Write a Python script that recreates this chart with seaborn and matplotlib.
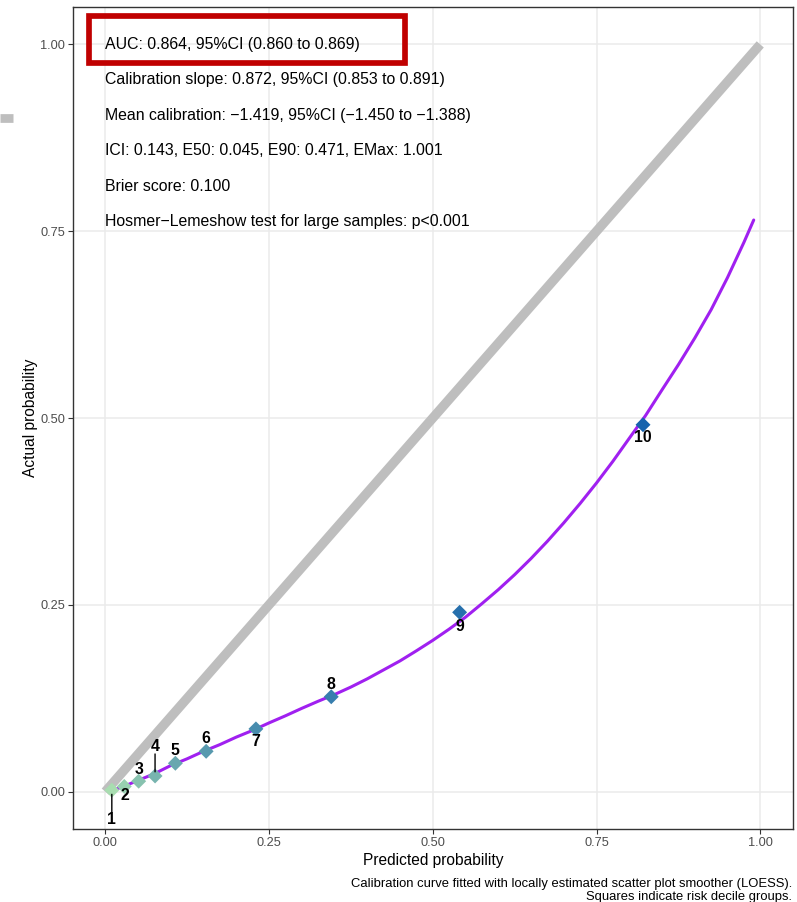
import matplotlib
matplotlib.use("Agg")
import matplotlib.pyplot as plt
from matplotlib.patches import Rectangle
from matplotlib.lines import Line2D
import seaborn as sns
import pandas as pd

# Risk decile groups: mean predicted vs observed probability
decile = [1, 2, 3, 4, 5, 6, 7, 8, 9, 10]
pred_decile = [0.010, 0.029, 0.051, 0.076, 0.107, 0.154, 0.230, 0.345, 0.541, 0.821]
obs_decile = [0.002, 0.007, 0.014, 0.021, 0.038, 0.054, 0.084, 0.127, 0.240, 0.491]

# LOESS calibration curve
curve_x = [0.015, 0.025, 0.05, 0.075, 0.10, 0.125, 0.15, 0.175, 0.20, 0.225, 0.25, 0.275,
           0.30, 0.325, 0.35, 0.375, 0.40, 0.425, 0.45, 0.475, 0.50, 0.525, 0.55, 0.575,
           0.60, 0.625, 0.65, 0.675, 0.70, 0.725, 0.75, 0.775, 0.80, 0.825, 0.85, 0.875,
           0.90, 0.925, 0.95, 0.975, 0.99]
curve_y = [0.003, 0.006, 0.015, 0.024, 0.035, 0.044, 0.054, 0.063, 0.073, 0.082, 0.092, 0.1015,
           0.1115, 0.121, 0.130, 0.140, 0.151, 0.163, 0.175, 0.1885, 0.2025, 0.2175, 0.2335, 0.2516,
           0.2703, 0.2904, 0.3120, 0.3351, 0.3597, 0.3857, 0.4131, 0.4421, 0.4729, 0.5035, 0.5377, 0.5714,
           0.607, 0.645, 0.688, 0.735, 0.765]

# Ideal calibration line
ideal = [0.0, 1.0]

stats_lines = [
    "AUC: 0.864, 95%CI (0.860 to 0.869)",
    "Calibration slope: 0.872, 95%CI (0.853 to 0.891)",
    "Mean calibration: \u22121.419, 95%CI (\u22121.450 to \u22121.388)",
    "ICI: 0.143, E50: 0.045, E90: 0.471, EMax: 1.001",
    "Brier score: 0.100",
    "Hosmer\u2212Lemeshow test for large samples: p<0.001",
]

caption = ("Calibration curve fitted with locally estimated scatter plot smoother (LOESS).\n"
           "Squares indicate risk decile groups.")

# label offsets (pixels) for decile numbers, and whether a leader segment is drawn
label_offsets = [(0, -29), (1, -9), (0, 12), (0, 29), (0, 13), (0, 13),
                 (0, -13), (0, 12), (0, -14), (0, -13)]
label_segment = [True, False, False, True, False, False, False, False, False, False]

sns.set_theme(style="whitegrid")
plt.rcParams["font.family"] = ["Liberation Sans", "DejaVu Sans"]

fig = plt.figure(figsize=(7.97, 9.02), dpi=100)
ax = fig.add_axes([0.091, 0.0809, 0.904, 0.9113])

sns.lineplot(x=ideal, y=ideal, ax=ax, color="#BEBEBE", linewidth=6.8,
             solid_capstyle="butt", zorder=2)
sns.lineplot(x=curve_x, y=curve_y, ax=ax, color="#A020F0", linewidth=2.2,
             sort=False, zorder=3)

df = pd.DataFrame({"pred": pred_decile, "obs": obs_decile, "decile": decile})
palette = sns.blend_palette(["#a8ddb0", "#1763ad"], n_colors=len(decile))
sns.scatterplot(data=df, x="pred", y="obs", hue="decile", palette=palette,
                marker="D", s=58, linewidth=0, legend=False, ax=ax, zorder=4)

for d, px, py, off, seg in zip(decile, pred_decile, obs_decile, label_offsets, label_segment):
    if seg:
        # leader line from the marker towards the label
        ax.annotate("", xy=(px, py), xycoords="data",
                    xytext=(0, off[1] - (7 if off[1] > 0 else -7)), textcoords="offset pixels",
                    arrowprops=dict(arrowstyle="-", color="black", lw=1.0,
                                    shrinkA=0, shrinkB=3), zorder=5)
    ax.annotate(str(d), xy=(px, py), xytext=(off[0], off[1]), textcoords="offset pixels",
                ha="center", va="center", fontsize=11.4, fontweight="bold",
                color="black", zorder=6)

for i, line in enumerate(stats_lines):
    ax.text(0.0, 1.0 - i * 0.0475, line, fontsize=11.4, ha="left", va="center",
            color="black", zorder=6)

ax.add_patch(Rectangle((-0.0244, 0.9746), 0.4817, 0.0628, fill=False,
                       edgecolor="#C00000", linewidth=4.1, clip_on=False, zorder=7))

ax.set_xlim(-0.05, 1.05)
ax.set_ylim(-0.05, 1.05)
ticks = [0.0, 0.25, 0.5, 0.75, 1.0]
tick_labels = ["0.00", "0.25", "0.50", "0.75", "1.00"]
ax.set_xticks(ticks)
ax.set_xticklabels(tick_labels)
ax.set_yticks(ticks)
ax.set_yticklabels(tick_labels)
ax.set_xlabel("Predicted probability", fontsize=11.2, color="black", labelpad=3)
ax.set_ylabel("Actual probability", fontsize=11.2, color="black", labelpad=1.5)

ax.grid(True, color="#EBEBEB", linewidth=1.1)
ax.set_facecolor("white")
for sp in ax.spines.values():
    sp.set_color("#333333")
    sp.set_linewidth(1.0)
ax.tick_params(axis="both", which="major", direction="out", length=3.5, width=0.8,
               color="#333333", labelcolor="#4D4D4D", labelsize=9.2, pad=2,
               bottom=True, left=True)

# remnant of the reference-line legend key at the left margin
fig.add_artist(Line2D([0.0, 13 / 797], [1 - 118.3 / 902] * 2, color="#BEBEBE",
                      linewidth=6.3, solid_capstyle="butt", transform=fig.transFigure))

fig.text(792 / 797, 1 - 878 / 902, caption, ha="right", va="top", fontsize=9.4,
         color="black", linespacing=1.15)

fig.savefig("out.png", dpi=100, facecolor="white")
